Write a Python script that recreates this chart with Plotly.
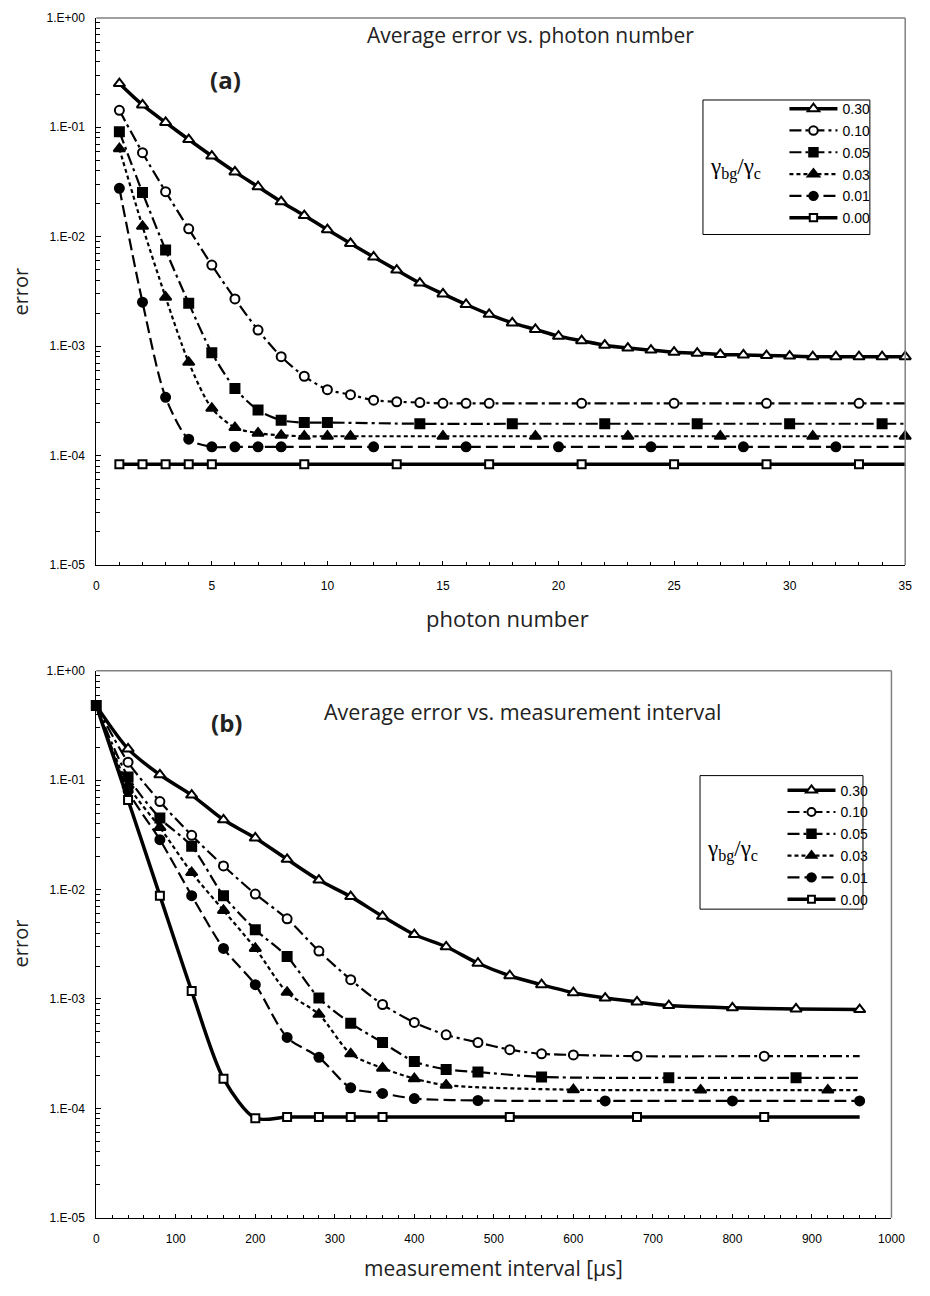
import plotly.graph_objects as go

W, H = 930, 1296


def px(x):
    return x / W


def py(y):
    return 1 - y / H


# ---------------- data: panel (a) ----------------
names = ["0.30", "0.10", "0.05", "0.03", "0.01", "0.00"]

a030_x = list(range(1, 36))
a030 = [0.251, 0.160, 0.1107, 0.0773, 0.0546, 0.0391, 0.0286, 0.0209, 0.0156, 0.0116,
        0.00868, 0.00652, 0.00495, 0.00377, 0.0030, 0.0024, 0.00195, 0.00163, 0.00142, 0.00123,
        0.00112, 0.00102, 0.00096, 0.00092, 0.00088, 0.00086, 0.00084, 0.00083, 0.00082, 0.00081,
        0.0008, 0.0008, 0.0008, 0.0008, 0.0008]

a010_x = list(range(1, 18)) + [21, 25, 29, 33, 35]
a010 = [0.143, 0.0586, 0.0258, 0.0118, 0.0055, 0.0027, 0.0014, 0.0008, 0.00053, 0.0004,
        0.00036, 0.00032, 0.00031, 0.000305, 0.0003, 0.0003, 0.0003,
        0.0003, 0.0003, 0.0003, 0.0003, 0.0003]

a005_x = list(range(1, 11)) + [14, 18, 22, 26, 30, 34, 35]
a005 = [0.0912, 0.0253, 0.00755, 0.00247, 0.00087, 0.00041, 0.00026, 0.00021, 0.0002, 0.0002,
        0.000195, 0.000195, 0.000195, 0.000195, 0.000195, 0.000195, 0.000195]

a003_x = list(range(1, 12)) + [15, 19, 23, 27, 31, 35]
a003 = [0.0637, 0.01245, 0.0028, 0.00071, 0.00027, 0.00018, 0.00016, 0.000153, 0.00015, 0.00015,
        0.00015, 0.00015, 0.00015, 0.00015, 0.00015, 0.00015, 0.00015]

a001_x = list(range(1, 9)) + [12, 16, 20, 24, 28, 32, 35]
a001 = [0.0277, 0.00252, 0.00034, 0.000141, 0.00012, 0.00012, 0.00012, 0.00012,
        0.00012, 0.00012, 0.00012, 0.00012, 0.00012, 0.00012, 0.00012]

a000_x = list(range(1, 6)) + [9, 13, 17, 21, 25, 29, 33, 35]
a000 = [0.000083] * 13

# ---------------- data: panel (b) ----------------
b030_x = list(range(0, 721, 40)) + [800, 880, 960]
b030 = [0.48, 0.193, 0.112, 0.073, 0.0434, 0.0296, 0.0189, 0.0122, 0.00862, 0.00569,
        0.00388, 0.0030, 0.00212, 0.00163, 0.00135, 0.00114, 0.00102, 0.00094, 0.00087,
        0.00083, 0.00081, 0.0008]

b010_x = list(range(0, 601, 40)) + [680, 840, 960]
b010 = [0.48, 0.146, 0.0637, 0.0313, 0.01644, 0.0091, 0.0054, 0.00274, 0.0015, 0.00089,
        0.00061, 0.00047, 0.0004, 0.000344, 0.000315, 0.000308, 0.0003, 0.0003, 0.0003]

b005_x = list(range(0, 481, 40)) + [560, 720, 880, 960]
b005 = [0.48, 0.107, 0.045, 0.0249, 0.0088, 0.0043, 0.00244, 0.00102, 0.0006, 0.0004,
        0.000268, 0.000227, 0.000215, 0.000194, 0.00019, 0.00019, 0.00019]

b003_x = list(range(0, 441, 40)) + [600, 760, 920, 960]
b003 = [0.48, 0.09, 0.037, 0.0143, 0.00644, 0.0029, 0.00115, 0.000724, 0.000315, 0.000233,
        0.000187, 0.000163, 0.000148, 0.000147, 0.000147, 0.000147]

b001_x = list(range(0, 401, 40)) + [480, 640, 800, 960]
b001 = [0.48, 0.08, 0.0286, 0.0088, 0.0029, 0.00135, 0.000445, 0.000293, 0.000154, 0.000137,
        0.000123, 0.000118, 0.000117, 0.000117, 0.000117]

b000_x = [0, 40, 80, 120, 160, 200, 240, 280, 320, 360, 520, 680, 840, 960]
b000 = [0.48, 0.0658, 0.0088, 0.00118, 0.000187, 0.0000813,
        0.0000833, 0.0000833, 0.0000833, 0.0000833, 0.0000833, 0.0000833, 0.0000833, 0.0000833]

y_tickvals = [1e-5, 1e-4, 1e-3, 1e-2, 1e-1, 1]
y_ticktext = ["1.E-05", "1.E-04", "1.E-03", "1.E-02", "1.E-01", "1.E+00"]

# ---------------- styles ----------------
styles = {
    "0.30": dict(symbol="triangle-up", fill="white", dash="solid", width=3.5, size=10),
    "0.10": dict(symbol="circle", fill="white", dash="12px,4px,3px,4px", width=2.2, size=9),
    "0.05": dict(symbol="square", fill="black", dash="12px,4px,3px,4px", width=2.2, size=9),
    "0.03": dict(symbol="triangle-up", fill="black", dash="4px,3px", width=2.2, size=10),
    "0.01": dict(symbol="circle", fill="black", dash="12px,5px", width=2.2, size=9),
    "0.00": dict(symbol="square", fill="white", dash="solid", width=3.5, size=8),
}

panel_a = {"0.30": (a030_x, a030), "0.10": (a010_x, a010), "0.05": (a005_x, a005),
           "0.03": (a003_x, a003), "0.01": (a001_x, a001), "0.00": (a000_x, a000)}
panel_b = {"0.30": (b030_x, b030), "0.10": (b010_x, b010), "0.05": (b005_x, b005),
           "0.03": (b003_x, b003), "0.01": (b001_x, b001), "0.00": (b000_x, b000)}

# which points carry no marker (line continues beyond the last marker)
hide_last_a = {"0.10", "0.05", "0.01", "0.00"}
hide_last_b = {"0.10", "0.05", "0.03", "0.00"}

fig = go.Figure()

for panel, xa, ya, leg, hide_last, hide_first in [
        (panel_a, "x", "y", "legend", hide_last_a, False),
        (panel_b, "x2", "y2", "legend2", hide_last_b, True)]:
    for n in names:
        xs, ys = panel[n]
        st = styles[n]
        sizes = [st["size"]] * len(xs)
        if n in hide_last:
            sizes[-1] = 0
        if hide_first and n != "0.05":
            sizes[0] = 0
        fig.add_trace(go.Scatter(
            x=xs, y=ys, name=n, xaxis=xa, yaxis=ya, legend=leg,
            legendgroup=leg + n, mode="lines+markers", cliponaxis=False,
            line=dict(color="black", width=st["width"], dash=st["dash"],
                      shape="spline", smoothing=0.8),
            marker=dict(symbol=st["symbol"], size=sizes, color=st["fill"], opacity=1,
                        line=dict(color="black", width=2)),
        ))

axis_font = dict(family="Liberation Sans", size=12, color="black")
common_x = dict(showline=True, linecolor="black", linewidth=1, ticks="inside",
                ticklen=4, tickcolor="black", showgrid=False, zeroline=False,
                tickfont=axis_font, ticklabelstandoff=10)
common_y = dict(type="log", range=[-5, 0], showline=True, linecolor="black", linewidth=1,
                ticks="inside", ticklen=5, tickcolor="black", showgrid=False,
                tickmode="array", tickvals=y_tickvals, ticktext=y_ticktext,
                tickfont=axis_font, ticklabelstandoff=8,
                minor=dict(ticks="inside", ticklen=4, tickcolor="black", dtick="D1",
                           showgrid=False))

dom_xa = [px(95), px(919)]
dom_ya = [py(564), py(11)]
dom_xb = [px(95), px(905)]
dom_yb = [py(1224), py(671)]

legend_font = dict(family="Liberation Sans", size=14, color="black")
fig.update_layout(
    width=W, height=H, margin=dict(l=0, r=0, t=0, b=0),
    paper_bgcolor="white", plot_bgcolor="white",
    xaxis=dict(domain=dom_xa, range=[0, 35], dtick=5, tick0=0, anchor="y",
               minor=dict(ticks="inside", ticklen=3, tickcolor="black", dtick=1, showgrid=False),
               **common_x),
    yaxis=dict(domain=dom_ya, anchor="x", **common_y),
    xaxis2=dict(domain=dom_xb, range=[0, 1000], dtick=100, tick0=0, anchor="y2",
                minor=dict(ticks="inside", ticklen=3, tickcolor="black", dtick=20, showgrid=False),
                **common_x),
    yaxis2=dict(domain=dom_yb, anchor="x2", **common_y),
    legend=dict(x=px(796), y=py(87), xanchor="left", yanchor="top",
                bgcolor="rgba(0,0,0,0)", borderwidth=0, tracegroupgap=0.6, itemwidth=48,
                font=legend_font),
    legend2=dict(x=px(794), y=py(776), xanchor="left", yanchor="top",
                 bgcolor="rgba(0,0,0,0)", borderwidth=0, tracegroupgap=0.6, itemwidth=48,
                 font=legend_font),
    showlegend=True,
)

shapes = []
# gray top and right frame lines
for xr, yr in [("x domain", "y domain"), ("x2 domain", "y2 domain")]:
    shapes.append(dict(type="line", xref=xr, yref=yr, x0=0, x1=1, y0=1, y1=1,
                       line=dict(color="#808080", width=1.5)))
    shapes.append(dict(type="line", xref=xr, yref=yr, x0=1, x1=1, y0=0, y1=1,
                       line=dict(color="#808080", width=1.5)))
# legend boxes
shapes.append(dict(type="rect", xref="paper", yref="paper", x0=px(713), x1=px(883),
                   y0=py(230), y1=py(94), line=dict(color="black", width=1)))
shapes.append(dict(type="rect", xref="paper", yref="paper", x0=px(710), x1=px(876),
                   y0=py(912), y1=py(777), line=dict(color="black", width=1)))
fig.update_layout(shapes=shapes)

ann = []


def add_text(x, y, text, size=19, bold=False, angle=0, family="Open Sans", color="#222222",
             xanchor="center"):
    ann.append(dict(xref="paper", yref="paper", x=px(x), y=py(y), text=text, showarrow=False,
                    xanchor=xanchor, yanchor="middle", textangle=angle,
                    font=dict(family=family, size=size, color=color,
                              weight="bold" if bold else "normal")))


add_text(537, 28, "Average error vs. photon number", size=21)
add_text(530, 712, "Average error vs. measurement interval", size=21.5)
add_text(227, 73, "(a)", size=24, bold=True)
add_text(228, 723, "(b)", size=24, bold=True)
add_text(18, 288, "error", size=20, angle=-90)
add_text(18, 947, "error", size=20, angle=-90)
add_text(514, 618, "photon number", size=22)
add_text(500, 1275, "measurement interval [µs]", size=21)
gam = "γ<sub>bg</sub>/γ<sub>c</sub>"
add_text(746, 163, gam, size=23, family="Liberation Serif", color="black")
add_text(743, 853, gam, size=23, family="Liberation Serif", color="black")
fig.update_layout(annotations=ann)

fig.write_html("out.html")
